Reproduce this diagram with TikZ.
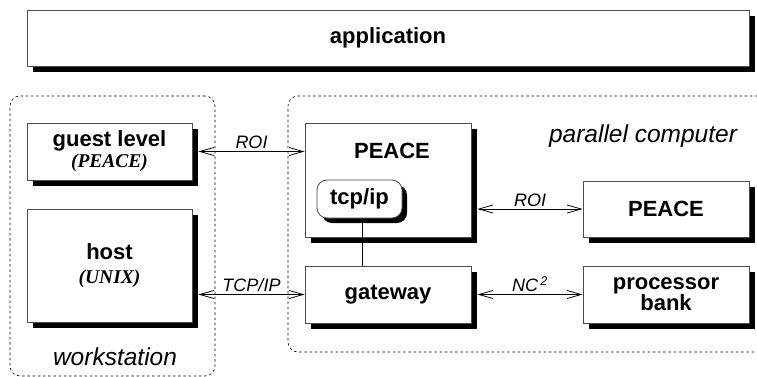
\documentclass[tikz,border=0pt]{standalone}
\usepackage{fontspec}
\setmainfont{Liberation Sans}
\newfontfamily\timesbi{Liberation Serif}
\usetikzlibrary{arrows.meta,backgrounds}

\tikzset{
  box/.style={draw=black!70, line width=0.8pt, fill=white, inner sep=0pt,
    font=\fontsize{22}{21}\selectfont\bfseries, align=center},
  group/.style={draw, line width=0.6pt, dash pattern=on 2.5pt off 2.7pt,
    rounded corners=10pt, inner sep=0pt},
  link/.style={line width=0.8pt,
    arrows={Straight Barb[length=14pt,width=8pt]-Straight Barb[length=14pt,width=8pt]}},
  lbl/.style={font=\fontsize{18}{18}\selectfont\itshape, inner sep=2pt},
  sub/.style={font=\fontsize{24.5}{26}\selectfont\itshape}
}
\newcommand{\tms}[1]{{\timesbi\bfseries\itshape\fontsize{19.5}{19.5}\selectfont #1}}

\begin{document}
\begin{tikzpicture}[x=1pt,y=-1pt]
    \useasboundingbox (0,0) rectangle (757,377);

    \node[box, minimum width=722, minimum height=56] (app) at (388,38) {application};

    \node[group, minimum width=205, minimum height=280] (ws) at (112.5,236) {};
    \node[group, minimum width=490, minimum height=256] (pc) at (533,224) {};
    \node[sub] (wslbl) at (115,357) {workstation};
    \node[sub] (pclbl) at (643,136) {parallel computer};

    \node[box, minimum width=165, minimum height=57] (guest) at (109.5,151.5) {guest level\\[0pt]\tms{(PEACE)}};
    \node[box, minimum width=165, minimum height=113] (host) at (109.5,265.5) {host\\[3pt]\tms{(UNIX)}};

    \node[box, minimum width=166, minimum height=114] (peace) at (388,180) {};
    \node[font=\fontsize{22}{21}\selectfont\bfseries] (peacelbl) at (392,151) {PEACE};
    \node[box, minimum width=85, minimum height=38, rounded corners=10pt,
          preaction={fill=black, transform canvas={shift={(5pt,-5pt)}}}] (tcp) at (359.5,199) {tcp/ip};
    \node[box, minimum width=166, minimum height=57] (gw) at (388,294.5) {gateway};

    \node[box, minimum width=166, minimum height=56] (peace2) at (666,209) {PEACE};
    \node[box, minimum width=166, minimum height=57] (bank) at (666,294.5) {processor\\bank};

    \begin{scope}[on background layer]
      \foreach \b in {app,guest,host,peace,gw,peace2,bank}
        \fill ([xshift=6pt,yshift=-6pt]\b.south west) rectangle ([xshift=6pt,yshift=-6pt]\b.north east);
    \end{scope}

    \draw[line width=0.8pt] ([xshift=2.5pt,yshift=-5pt]tcp.south) -- ([xshift=2.5pt]tcp.south |- gw.north);

    \draw[link] ([xshift=6pt]guest.east) -- node[lbl, above] (roi1) {ROI} (guest.east -| peace.west);
    \draw[link] ([xshift=6pt]host.east |- gw.west) -- node[lbl, above] (tcpip) {TCP/IP} (gw.west);
    \draw[link] ([xshift=6pt]peace.east |- peace2.west) -- node[lbl, above] (roi2) {ROI} (peace2.west);
    \draw[link] ([xshift=6pt]gw.east) -- node[lbl, above] (nc) {NC\textsuperscript{\,2}} (bank.west);
\end{tikzpicture}
\end{document}
